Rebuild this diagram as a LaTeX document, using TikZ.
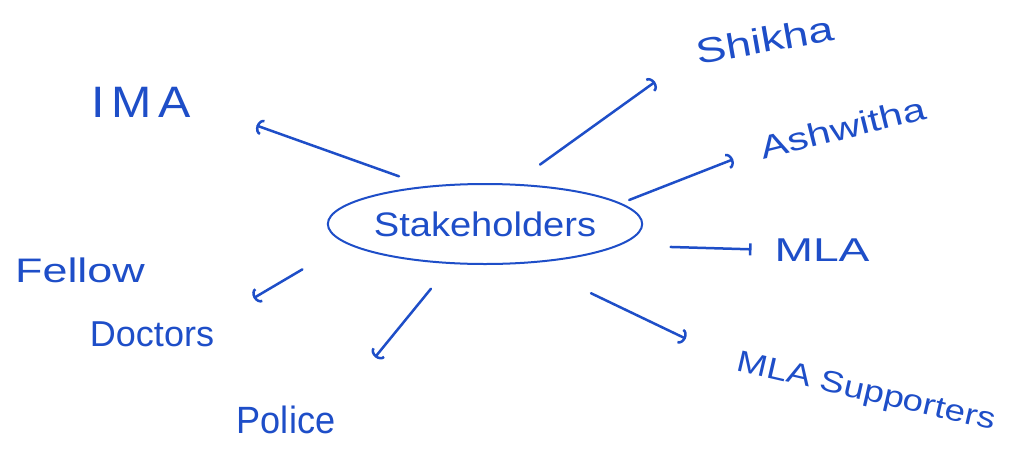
\documentclass[tikz,border=0pt]{standalone}
\usepackage{fontspec}
\setmainfont{Liberation Sans}
\usetikzlibrary{arrows.meta,shapes.geometric}
\definecolor{pen}{RGB}{30,78,200}
\newcommand\hw[3]{\scalebox{#1}[1]{\fontsize{#2}{#2}\selectfont #3}}
\begin{document}
\begin{tikzpicture}[x=1pt,y=-1pt,
  lab/.style={text=pen,inner sep=0pt,outer sep=0pt},
  hub/.style={ellipse,draw=pen,line width=2pt,text=pen,inner sep=0pt,
    minimum width=290pt,minimum height=80pt,outer sep=15pt},
  conn/.style={draw=pen,line width=2.5pt,line cap=round,
    -{Arc Barb[length=6pt,width=16pt]}}]
\useasboundingbox (0,0) rectangle (1011,450);
\fill[white] (0,0) rectangle (1011,450);

\node[hub] (st) at (485,224) {\hw{1.12}{34}{Stakeholders}};
\node[lab] (ima) at (141,102) {\hw{1.1}{44}{I\hspace{6pt}M\hspace{6pt}A}};
\node[lab,rotate=10] (shikha) at (765,40) {\hw{1.3}{35}{Shikha}};
\node[lab,rotate=14] (ash) at (843,128) {\hw{1.3}{32}{Ashwitha}};
\node[lab] (mla) at (822,250) {\hw{1.4}{33}{MLA}};
\node[lab,rotate=-13] (supp) at (866,393) {\hw{1.22}{30}{MLA Supporters}};
\node[lab] (fellow) at (80,270) {\hw{1.32}{34}{Fellow}};
\node[lab] (doctors) at (152,334) {\hw{1.0}{36}{Doctors}};
\node[lab] (police) at (286,420) {\hw{0.95}{38}{Police}};

\draw[conn,shorten >=70pt] (st.151.6) -- (ima.east);
\draw[conn,shorten <=11pt,shorten >=51pt] (st.49.6) -- (shikha.west);
\draw[conn,shorten <=-7pt,shorten >=30pt] (st.10.1) -- (ash.west);
\draw[conn,-{Bar[width=12pt]},shorten <=28pt,shorten >=23pt] (st.-8.45) -- (mla.west);
\draw[conn,shorten <=43pt,shorten >=57pt] (st.-37.2) -- (supp.west);
\draw[conn,shorten <=37pt,shorten >=46pt] (st.190.6) -- (doctors.north east);
\draw[conn,shorten <=15pt,shorten >=63pt] (st.230.4) -- (police.north east);
\end{tikzpicture}
\end{document}
